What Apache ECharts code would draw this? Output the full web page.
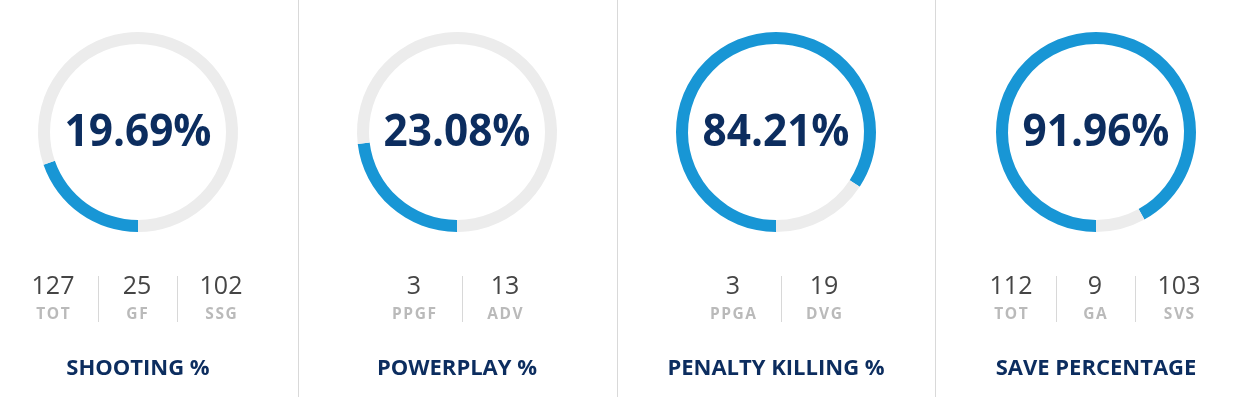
<!DOCTYPE html>
<html>
<head>
<meta charset="utf-8">
<script src="https://cdn.jsdelivr.net/npm/echarts@6/dist/echarts.min.js"></script>
<style>
    html, body { margin: 0; padding: 0; background: #fff; }
    #main { width: 1241px; height: 397px; }
</style>
</head>
<body>
<div id="main"></div>
<script>
// 数据
var panelTitles = ['SHOOTING %', 'POWERPLAY %', 'PENALTY KILLING %', 'SAVE PERCENTAGE'];
var percentValues = [19.69, 23.08, 84.21, 91.96];
var statValues = [
    ['127', '25', '102'],
    ['3', '13'],
    ['3', '19'],
    ['112', '9', '103']
];
var statLabels = [
    ['TOT', 'GF', 'SSG'],
    ['PPGF', 'ADV'],
    ['PPGA', 'DVG'],
    ['TOT', 'GA', 'SVS']
];

var centers = [138, 457, 776, 1096]; // 每个面板中心
var panelLines = [298, 617, 935];    // 面板分隔线
var ringY = 132;
var blue = '#1896d5';
var track = '#ececec';
var navy = '#0c2d5f';

var chart = echarts.init(document.getElementById('main'));

var series = [];
var graphic = [];

for (var i = 0; i < centers.length; i++) {
    var cx = centers[i];
    var pct = percentValues[i];

    // 圆环
    series.push({
        type: 'pie',
        center: [cx, ringY],
        radius: [88, 100],
        startAngle: 270,
        clockwise: true,
        silent: true,
        animation: false,
        label: { show: false },
        labelLine: { show: false },
        data: [
            { value: pct, itemStyle: { color: blue } },
            { value: 100 - pct, itemStyle: { color: track } }
        ]
    });

    // 百分比文字
    graphic.push({
        type: 'text',
        x: cx, y: ringY + 1,
        scaleX: 0.94,
        style: {
            text: pct.toFixed(2) + '%',
            fill: navy,
            font: '700 45px "Open Sans"',
            align: 'center',
            verticalAlign: 'middle'
        }
    });

    // 统计数字
    var vals = statValues[i];
    var offs, divs;
    if (vals.length === 3) {
        offs = [-85, -1, 83];
        divs = [-40, 39];
    } else {
        offs = [-43, 48];
        divs = [5];
    }
    for (var j = 0; j < vals.length; j++) {
        graphic.push({
            type: 'text',
            x: cx + offs[j], y: 287,
            style: {
                text: vals[j],
                fill: '#454545',
                font: '400 25px "Open Sans"',
                align: 'center',
                verticalAlign: 'middle'
            }
        });
        graphic.push({
            type: 'text',
            x: cx + offs[j], y: 315,
            style: {
                text: statLabels[i][j].split('').join('\u200a'),
                fill: '#bababa',
                font: '700 15.5px "Open Sans"',
                align: 'center',
                verticalAlign: 'middle'
            }
        });
    }
    for (var k = 0; k < divs.length; k++) {
        graphic.push({
            type: 'line',
            shape: { x1: cx + divs[k] + 0.5, y1: 276, x2: cx + divs[k] + 0.5, y2: 322 },
            style: { stroke: '#d8d8d8', lineWidth: 1 }
        });
    }

    // 标题
    graphic.push({
        type: 'text',
        x: cx, y: 369,
        style: {
            text: panelTitles[i],
            fill: navy,
            font: '700 22px "Open Sans"',
            align: 'center',
            verticalAlign: 'middle'
        }
    });
}

for (var m = 0; m < panelLines.length; m++) {
    graphic.push({
        type: 'line',
        shape: { x1: panelLines[m] + 0.5, y1: 0, x2: panelLines[m] + 0.5, y2: 397 },
        style: { stroke: '#d9d9d9', lineWidth: 1 }
    });
}

chart.setOption({
    animation: false,
    series: series,
    graphic: graphic
});
</script>
</body>
</html>
